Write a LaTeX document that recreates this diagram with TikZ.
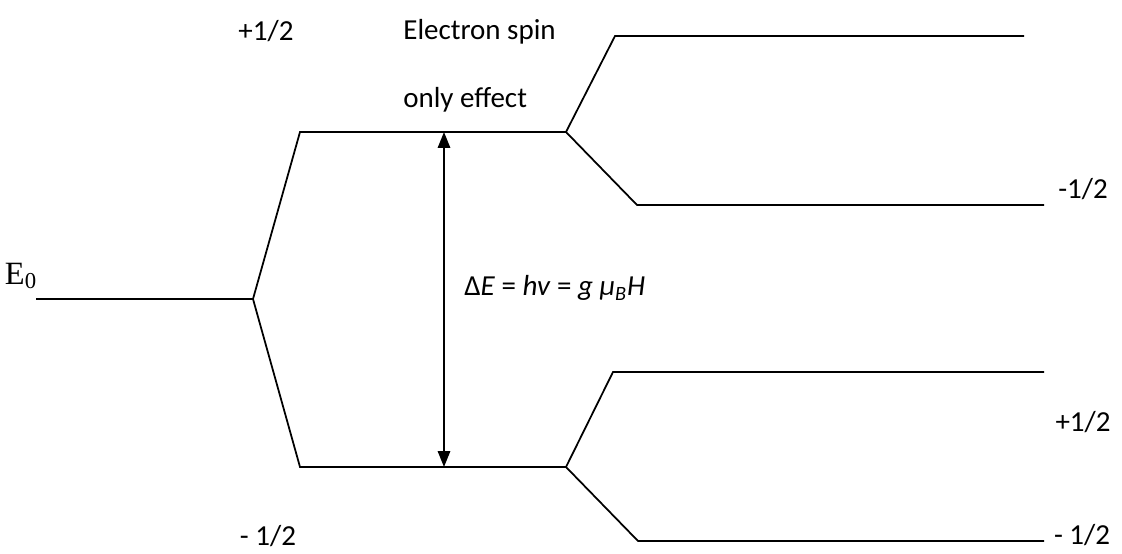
\documentclass[tikz,border=0pt]{standalone}
\usepackage{fontspec}
\setmainfont{Carlito}
\newfontfamily\timesfont{Liberation Serif}
\usetikzlibrary{arrows.meta}

\begin{document}
\begin{tikzpicture}[
x=0.02cm, y=-0.02cm,
level/.style={line width=1pt},
gap/.style={{Triangle[length=9pt,width=7pt]}-{Triangle[length=9pt,width=7pt]}, line width=1pt},
lbl/.style={inner sep=0pt, font=\fontsize{16.5}{19}\selectfont}
]
\useasboundingbox (0,0) rectangle (1122,554);

% field-free level and first splitting
\coordinate (E0l) at (36,299);
\coordinate (E0r) at (253,299);
\coordinate (Ual) at (300,132);
\coordinate (Uar) at (566,132);
\coordinate (Lal) at (300,467);
\coordinate (Lar) at (566,467);

% second splitting
\coordinate (UUl) at (615,36);
\coordinate (UUr) at (1024,36);
\coordinate (ULl) at (637,205);
\coordinate (ULr) at (1044,205);
\coordinate (LUl) at (613,372);
\coordinate (LUr) at (1044,372);
\coordinate (LLl) at (638,541);
\coordinate (LLr) at (1044,541);

\draw[level] (E0l) -- (E0r);
\draw[level] (E0r) -- (Ual) -- (Uar);
\draw[level] (E0r) -- (Lal) -- (Lar);
\draw[level] (Uar) -- (UUl) -- (UUr);
\draw[level] (Uar) -- (ULl) -- (ULr);
\draw[level] (Lar) -- (LUl) -- (LUr);
\draw[level] (Lar) -- (LLl) -- (LLr);

\coordinate (gapT) at (444,132);
\coordinate (gapB) at (444,467);
\draw[gap] (gapT) -- (gapB);

\node[inner sep=0pt, font=\timesfont\fontsize{18.5}{21}\selectfont] (E0) at (21,276) {E\textsubscript{0}};
\node[lbl] (sUp) at (266,31) {+1/2};
\node[lbl, anchor=west] (esp1) at (403,32) {Electron spin};
\node[lbl, anchor=west] (esp2) at (403,100) {only effect};
\node[lbl, anchor=west] (dE) at (464,288) {Δ\textit{E} = \textit{hv} = \textit{g μ\textsubscript{B}H}};
\node[lbl] (sDn) at (268,536) {- 1/2};
\node[lbl] (s1) at (1083,189) {-1/2};
\node[lbl] (s2) at (1083,422) {+1/2};
\node[lbl] (s3) at (1082,535) {- 1/2};

\end{tikzpicture}
\end{document}
